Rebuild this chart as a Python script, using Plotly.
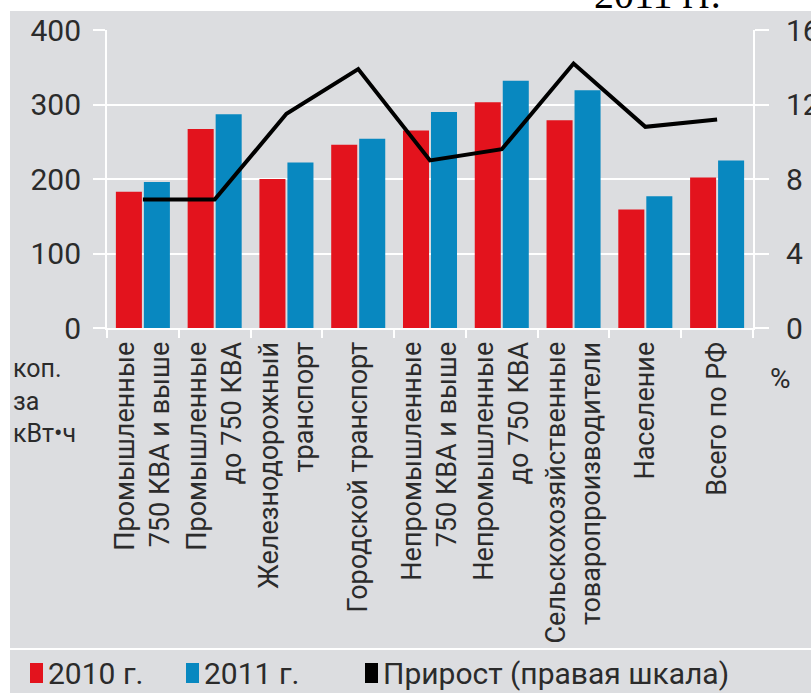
import plotly.graph_objects as go

# --- data -------------------------------------------------------------
categories = [
    "Промышленные<br>750 КВА и выше",
    "Промышленные<br>до 750 КВА",
    "Железнодорожный<br>транспорт",
    "Городской транспорт",
    "Непромышленные<br>750 КВА и выше",
    "Непромышленные<br>до 750 КВА",
    "Сельскохозяйственные<br>товаропроизводители",
    "Население",
    "Всего по РФ",
]
tariff_2010 = [183, 267, 200, 246, 265, 303, 279, 159, 202]
tariff_2011 = [196, 287, 222, 254, 290, 332, 319, 177, 225]
growth_pct = [6.9, 6.9, 11.5, 13.9, 9.0, 9.6, 14.2, 10.8, 11.2]

left_ticks = [0, 100, 200, 300, 400]
right_ticks = [0, 4, 8, 12, 16]

# --- styling ----------------------------------------------------------
W, H = 811, 693
PLOT_L, PLOT_R, PLOT_T, PLOT_B = 107, 753, 30, 328
BG = "#dcdde0"
RED = "#e3131d"
BLUE = "#0888c0"
TXT = "#2b2b2b"
FONT = "Roboto, 'Liberation Sans', Arial, sans-serif"


def px_x(px):
    return (px - PLOT_L) / (PLOT_R - PLOT_L)


def px_y(py):
    return (PLOT_B - py) / (PLOT_B - PLOT_T)


fig = go.Figure()
fig.add_trace(go.Bar(x=categories, y=tariff_2010, name="2010 г.",
                     marker=dict(color=RED, line=dict(width=0))))
fig.add_trace(go.Bar(x=categories, y=tariff_2011, name="2011 г.",
                     marker=dict(color=BLUE, line=dict(width=0))))
fig.add_trace(go.Scatter(x=categories, y=growth_pct, name="Прирост (правая шкала)",
                         yaxis="y2", mode="lines",
                         line=dict(color="black", width=4)))

shapes = [
    # white strips framing the grey panel
    dict(type="rect", xref="paper", yref="paper", layer="below",
         x0=px_x(-5), x1=px_x(W + 5), y0=px_y(11), y1=px_y(-5),
         fillcolor="white", line=dict(width=0)),
    dict(type="rect", xref="paper", yref="paper", layer="below",
         x0=px_x(-5), x1=px_x(10), y0=px_y(H + 5), y1=px_y(-5),
         fillcolor="white", line=dict(width=0)),
    # separator above the legend row
    dict(type="line", xref="paper", yref="paper", layer="below",
         x0=px_x(10), x1=px_x(W + 5), y0=px_y(649), y1=px_y(649),
         line=dict(color="white", width=2)),
]

annotations = [
    # heading line running off the top edge of the page
    dict(text="2011 гг.", xref="paper", yref="paper", x=px_x(592), y=px_y(19),
         xanchor="left", yanchor="bottom", showarrow=False,
         font=dict(family="'Liberation Serif', 'DejaVu Serif', serif", size=40, color="black")),
    dict(text="коп.<br>за<br>кВт•ч", xref="paper", yref="paper", x=px_x(11), y=px_y(352),
         xanchor="left", yanchor="top", align="left", showarrow=False,
         font=dict(family=FONT, size=25, color=TXT)),
    dict(text="%", xref="paper", yref="paper", x=px_x(768), y=px_y(378),
         xanchor="left", yanchor="middle", showarrow=False,
         font=dict(family=FONT, size=28, color=TXT)),
]

# legend row: coloured squares followed by labels
legend_items = [("2010 г.", RED, 30), ("2011 г.", BLUE, 186), ("Прирост (правая шкала)", "black", 365)]
for label, color, left in legend_items:
    shapes.append(dict(type="rect", xref="paper", yref="paper",
                       x0=px_x(left), x1=px_x(left + 13), y0=px_y(683), y1=px_y(663),
                       fillcolor=color, line=dict(width=0)))
    annotations.append(dict(text=label, xref="paper", yref="paper",
                            x=px_x(left + 16), y=px_y(673), xanchor="left", yanchor="middle",
                            showarrow=False, font=dict(family=FONT, size=30, color=TXT)))

fig.update_layout(
    width=W, height=H,
    margin=dict(l=PLOT_L, r=W - PLOT_R, t=PLOT_T, b=H - PLOT_B, pad=0, autoexpand=False),
    paper_bgcolor=BG, plot_bgcolor=BG,
    barmode="group", bargap=0.22, bargroupgap=0.07,
    showlegend=False,
    font=dict(family=FONT, color=TXT),
    xaxis=dict(
        type="category", tickangle=-90, tickson="boundaries",
        ticks="outside", ticklen=8, tickwidth=2, tickcolor="white",
        showline=True, linecolor="white", linewidth=2,
        showgrid=False, automargin=False, ticklabelstandoff=1,
        tickfont=dict(family=FONT, size=27, color=TXT),
    ),
    yaxis=dict(
        range=[0, 400], tickvals=left_ticks, ticktext=[str(v) for v in left_ticks],
        showgrid=True, gridcolor="white", gridwidth=2, zeroline=False,
        showline=True, linecolor="white", linewidth=2,
        ticks="outside", ticklen=12, tickwidth=2, tickcolor="white",
        ticklabelstandoff=6, automargin=False,
        tickfont=dict(family=FONT, size=30, color=TXT),
    ),
    yaxis2=dict(
        range=[0, 16], tickvals=right_ticks, ticktext=[str(v) for v in right_ticks],
        overlaying="y", side="right",
        showgrid=False, zeroline=False,
        showline=True, linecolor="white", linewidth=2,
        ticks="outside", ticklen=14, tickwidth=2, tickcolor="white",
        ticklabelstandoff=11, automargin=False,
        tickfont=dict(family=FONT, size=30, color=TXT),
    ),
    shapes=shapes,
    annotations=annotations,
)

fig.write_html("out.html")
